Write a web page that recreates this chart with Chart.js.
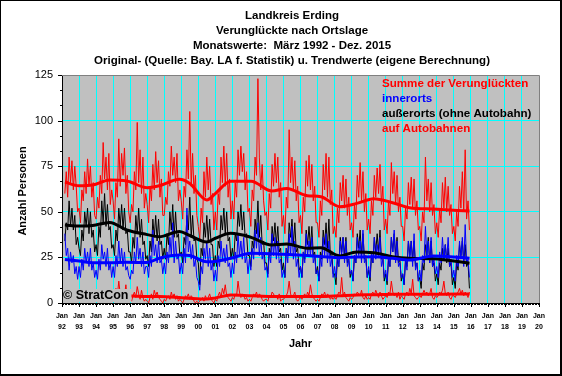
<!DOCTYPE html>
<html><head><meta charset="utf-8">
<script src="https://cdn.jsdelivr.net/npm/chart.js@4"></script>
<style>html,body{margin:0;padding:0;background:#fff}#c{display:block}</style>
</head><body>
<canvas id="c" width="562" height="376"></canvas>
<script>
// ---- text ----
const titleLines = [
  'Landkreis Erding',
  'Verunglückte nach Ortslage',
  'Monatswerte:  März 1992 - Dez. 2015',
  'Original- (Quelle: Bay. LA f. Statistik) u. Trendwerte (eigene Berechnung)'
];
const legendLabels = ['Summe der Verunglückten', 'innerorts', 'außerorts (ohne Autobahn)', 'auf Autobahnen'];
const legendColors = ['#ff0000', '#0000ff', '#000000', '#ff0000'];
const xTitle = 'Jahr';
const yTitle = 'Anzahl Personen';
const copyright = '© StratCon';
const xTickYears = [1992,1993,1994,1995,1996,1997,1998,1999,2000,2001,2002,2003,2004,2005,2006,2007,2008,2009,2010,2011,2012,2013,2014,2015,2016,2017,2018,2019,2020];
const yTickValues = [0,25,50,75,100,125];

// ---- monthly values, March 1992 - December 2015 ----
const summe = [
  60,72,58,80,66,78,62,75,64,50,
  52,44,62,56,72,60,79,64,75,58,66,48,
  46,58,52,70,60,88,68,80,62,82,54,62,
  56,46,66,58,90,64,82,70,85,60,70,50,
  44,54,50,72,62,99,66,84,60,80,52,60,
  54,44,64,56,76,62,83,66,78,58,68,48,
  48,58,54,72,64,86,70,80,66,82,56,62,
  56,46,64,58,84,68,105,64,82,60,70,48,
  42,35,52,44,72,58,80,62,75,54,60,40,
  50,40,60,54,80,66,86,64,82,58,68,46,
  56,46,66,58,84,70,86,72,82,62,72,50,
  52,42,62,56,80,70,123,80,62,76,56,48,
  50,40,60,52,76,64,82,66,80,58,66,42,
  48,38,58,52,95,66,80,62,78,56,64,44,
  48,38,58,50,78,64,81,62,76,56,64,44,
  44,36,56,48,76,62,82,58,80,54,62,38,
  42,36,52,44,66,56,70,52,68,48,58,40,
  44,36,54,46,70,58,77,56,72,50,60,40,
  46,38,56,48,70,58,74,60,76,54,64,40,
  46,38,56,48,77,60,72,54,70,50,58,42,
  42,34,52,46,66,54,69,52,68,48,56,40,
  42,34,50,44,80,56,68,50,66,48,54,38,
  44,36,52,44,66,52,69,50,64,48,54,38,
  42,34,50,42,64,52,72,50,84,46,56,40
];
const innerorts = [
  38,26,30,18,28,22,26,16,20,13,
  20,14,24,18,30,22,28,20,30,18,22,14,
  18,13,24,18,32,24,28,20,30,18,22,14,
  20,14,26,20,34,22,30,20,28,18,20,15,
  13,18,16,28,22,36,24,30,20,28,16,20,
  20,14,26,20,40,26,32,22,34,22,24,16,
  22,16,28,22,36,26,44,22,34,24,26,16,
  22,16,30,22,52,28,34,24,32,20,24,14,
  12,7,20,16,30,24,34,20,30,18,22,12,
  18,12,26,20,34,24,30,22,32,20,22,14,
  22,16,28,22,38,26,34,24,36,22,26,16,
  24,18,30,24,40,30,44,26,36,24,28,18,
  20,14,28,22,38,26,36,24,34,22,24,14,
  18,14,30,22,38,26,42,24,34,20,24,14,
  20,14,28,22,38,26,34,26,36,22,26,16,
  18,12,26,20,36,26,38,22,34,20,24,14,
  20,14,26,20,34,26,36,22,34,20,24,16,
  18,12,26,22,36,26,34,22,40,22,24,14,
  20,14,28,22,36,24,32,26,36,20,24,14,
  18,12,26,20,36,28,40,22,34,20,22,14,
  16,10,24,18,34,24,34,20,38,18,22,12,
  18,12,26,22,42,26,34,22,36,20,24,16,
  20,14,28,22,36,24,32,24,36,20,24,14,
  18,12,26,20,34,24,36,20,43,22,24,14
];
const ausserorts = [
  34,44,40,56,42,52,40,48,32,36,
  30,26,40,34,50,42,52,38,50,36,40,28,
  32,26,42,36,56,44,60,42,54,40,42,30,
  32,26,40,34,52,42,54,40,52,38,40,28,
  28,22,36,30,48,38,52,36,46,32,34,24,
  26,20,34,28,46,36,48,34,46,32,34,24,
  30,24,38,32,50,40,54,36,50,36,38,26,
  28,22,36,32,48,40,58,36,48,34,36,24,
  22,10,30,26,44,36,48,34,46,32,32,20,
  26,20,34,30,48,40,52,38,50,34,36,24,
  30,24,38,34,50,42,54,40,50,36,38,26,
  26,20,34,30,46,38,56,36,48,32,34,22,
  22,16,30,26,42,34,44,32,42,28,30,18,
  22,14,30,26,44,36,46,32,44,28,30,18,
  20,14,28,24,40,32,42,30,42,26,28,16,
  20,12,28,24,40,32,44,30,46,26,28,16,
  16,10,24,20,36,28,36,26,36,22,24,14,
  18,12,26,22,38,30,40,26,38,24,26,14,
  18,12,26,22,36,28,38,28,40,24,26,12,
  16,10,24,20,36,28,38,26,36,22,24,12,
  16,10,24,20,34,26,34,24,34,20,22,12,
  14,8,22,18,32,26,36,22,34,20,22,12,
  16,10,22,18,30,24,32,22,30,20,22,10,
  14,8,22,18,32,26,34,22,32,20,22,8
];
const autobahn = [
  4,3,5,4,4,5,3,4,2,3,
  2,3,4,5,4,4,3,5,4,3,2,3,
  3,2,4,5,4,5,4,5,5,3,2,2,
  3,2,8,4,12,5,3,6,4,10,2,3,
  2,1,4,6,3,9,5,2,7,3,1,2,
  1,0,3,5,2,7,4,6,3,2,1,0,
  2,1,3,4,2,6,3,5,2,4,1,2,
  1,0,2,4,3,5,2,4,3,1,0,1,
  0,1,2,3,1,4,2,3,5,2,1,0,
  2,1,4,6,3,8,5,10,4,3,2,1,
  3,2,5,4,12,6,3,5,4,2,3,1,
  2,1,3,5,4,6,3,5,4,2,1,2,
  2,1,4,3,6,5,3,4,2,5,1,2,
  2,3,4,6,12,5,3,4,6,2,1,2,
  3,2,4,5,3,6,4,10,5,3,2,1,
  2,1,3,5,4,6,3,5,4,2,3,2,
  3,2,4,6,5,14,4,6,3,2,1,3,
  2,3,5,4,6,5,4,7,3,2,4,2,
  3,2,5,6,4,7,5,3,6,4,2,3,
  4,3,6,5,12,6,4,5,3,6,2,4,
  3,2,5,6,4,8,5,13,4,3,2,3,
  4,3,5,7,5,6,4,5,8,3,2,4,
  3,4,6,5,7,12,5,4,6,3,2,4,
  4,3,5,6,8,5,7,4,6,5,3,6
];

// ---- trend values ----
const trendYears = [1992.17,1993.0,1993.8,1994.8,1995.8,1997.0,1997.7,1998.9,1999.5,2000.5,2001.0,2001.9,2003.1,2004.3,2005.2,2006.4,2007.2,2008.3,2009.3,2010.3,2011.4,2012.4,2013.8,2015.92];
const trendSumme    = [66.3,64.3,64.7,67.4,66.9,63.2,64.3,67.8,65.5,56.5,60.0,66.8,66.8,61.4,62.8,58.8,58.3,52.8,54.6,57.2,55.0,52.2,51.5,50.4];
const trendInner    = [23.9,23.0,22.1,22.0,22.3,22.2,24.5,26.3,26.0,22.6,22.8,24.5,27.3,27.0,26.6,26.0,25.5,24.8,25.2,25.4,24.5,23.6,25.8,24.5];
const trendAusser   = [42.7,42.2,42.5,44.2,40.0,37.5,36.3,39.2,37.0,33.5,35.5,38.2,36.0,31.8,32.3,30.0,30.3,25.8,28.0,27.5,25.4,24.5,24.2,21.8];
const trendAutobahn = [4.0,4.0,4.0,4.0,4.0,3.5,3.5,3.0,2.6,2.2,2.8,4.4,4.0,3.6,3.6,3.6,3.6,4.0,4.4,4.5,4.8,4.8,4.8,5.0];

function monthly(arr){ return arr.map((v,i)=>({x:1992+(2+i)/12, y:v})); }
function trend(arr){ return arr.map((v,i)=>({x:trendYears[i], y:v})); }

const thin = (data,color)=>({data, borderColor:color, borderWidth:1, pointRadius:0, tension:0, fill:false});
const thick = (data,color)=>({data, borderColor:color, borderWidth:3, pointRadius:0, cubicInterpolationMode:'monotone', fill:false});

const FONT = '"Liberation Sans", Arial, sans-serif';

const deco = {
  id:'deco',
  beforeDraw(chart){
    const {ctx, chartArea:a} = chart;
    ctx.save();
    ctx.fillStyle='#ffffff'; ctx.fillRect(0,0,chart.width,chart.height);
    ctx.fillStyle='#c0c0c0'; ctx.fillRect(a.left,a.top,a.right-a.left,a.bottom-a.top);
    ctx.restore();
  },
  afterDatasetsDraw(chart){
    const {ctx, chartArea:a} = chart;
    ctx.save();
    // copyright box
    ctx.font='bold 12.5px '+FONT;
    const w = ctx.measureText(copyright).width;
    ctx.fillStyle='#c0c0c0';
    ctx.fillRect(a.left+1, a.bottom-14, w+3, 13);
    ctx.fillStyle='#000'; ctx.textBaseline='middle'; ctx.textAlign='left';
    ctx.fillText(copyright, a.left+1, a.bottom-7);
    // legend
    ctx.font='bold 11.6px '+FONT;
    legendLabels.forEach((t,i)=>{
      ctx.fillStyle=legendColors[i];
      ctx.fillText(t, 382, 84+i*15);
    });
    ctx.restore();
  },
  afterDraw(chart){
    const {ctx, chartArea:a} = chart;
    const xs = chart.scales.x, ys = chart.scales.y;
    ctx.save();
    // plot frame top/right
    ctx.strokeStyle='#808080'; ctx.lineWidth=1;
    ctx.beginPath(); ctx.moveTo(a.left, a.top+0.5); ctx.lineTo(a.right+0.5, a.top+0.5); ctx.lineTo(a.right+0.5, a.bottom); ctx.stroke();
    // x ticks
    ctx.strokeStyle='#000';
    ctx.beginPath();
    for(let m=0;m<=28*12;m++){
      const px = Math.round(xs.getPixelForValue(1992+m/12))+0.5;
      const len = (m%12===0)?4:2;
      ctx.moveTo(px, a.bottom); ctx.lineTo(px, a.bottom+len);
    }
    // y ticks
    for(let k=0;k<=15;k++){
      const py = Math.round(ys.getPixelForValue(k*25/3))+0.5;
      const len = (k%3===0)?4:2;
      ctx.moveTo(a.left, py); ctx.lineTo(a.left-len, py);
    }
    ctx.stroke();
    // titles
    ctx.fillStyle='#000'; ctx.textAlign='center'; ctx.textBaseline='middle';
    ctx.font='bold 11.5px '+FONT;
    titleLines.forEach((t,i)=>ctx.fillText(t, 292, 16+i*15));
    ctx.font='bold 11px '+FONT;
    ctx.fillText(xTitle, (a.left+a.right)/2, 344);
    ctx.save();
    ctx.translate(23, 191); ctx.rotate(-Math.PI/2);
    ctx.fillText(yTitle, 0, 0);
    ctx.restore();
    // outer frame
    ctx.fillStyle='#000';
    ctx.fillRect(0,0,chart.width,1);
    ctx.fillRect(0,0,1,chart.height);
    ctx.fillRect(chart.width-2,0,2,chart.height);
    ctx.fillRect(0,chart.height-2,chart.width,2);
    ctx.restore();
  }
};

new Chart(document.getElementById('c'), {
  type:'line',
  data:{datasets:[
    thick(trend(trendSumme),'#ff0000'),
    thick(trend(trendInner),'#0000ff'),
    thick(trend(trendAusser),'#000000'),
    thick(trend(trendAutobahn),'#ff0000'),
    thin(monthly(innerorts),'#0000ff'),
    thin(monthly(ausserorts),'#000000'),
    thin(monthly(autobahn),'#ff0000'),
    thin(monthly(summe),'#ff0000')
  ]},
  options:{
    responsive:false, devicePixelRatio:1, animation:false, events:[],
    layout:{padding:{left:0,right:23,top:75,bottom:0}},
    plugins:{legend:{display:false}, title:{display:false}, tooltip:{enabled:false}},
    scales:{
      x:{
        type:'linear', min:1992, max:2020,
        afterBuildTicks:s=>{ s.ticks = xTickYears.map(v=>({value:v})); },
        afterFit:s=>{ s.height = 73; },
        ticks:{autoSkip:false, maxRotation:0, minRotation:0, padding:8, color:'#000',
          font:{family:FONT, size:7, weight:'bold', lineHeight:1.55},
          callback:v=>['Jan', String(v%100).padStart(2,'0')]},
        grid:{drawTicks:false, lineWidth:1, color:c=>(c.tick && (c.tick.value===1992||c.tick.value===2020))?'rgba(0,0,0,0)':'#00ffff'},
        border:{display:true, color:'#000', width:1}
      },
      y:{
        min:0, max:125,
        afterBuildTicks:s=>{ s.ticks = yTickValues.map(v=>({value:v})); },
        afterFit:s=>{ s.width = 62; },
        ticks:{padding:9, color:'#000', font:{family:FONT, size:11}},
        grid:{drawTicks:false, lineWidth:1, color:c=>(c.tick && (c.tick.value===0||c.tick.value===125))?'rgba(0,0,0,0)':'#00ffff'},
        border:{display:true, color:'#000', width:1}
      }
    }
  },
  plugins:[deco]
});
</script>
</body></html>
